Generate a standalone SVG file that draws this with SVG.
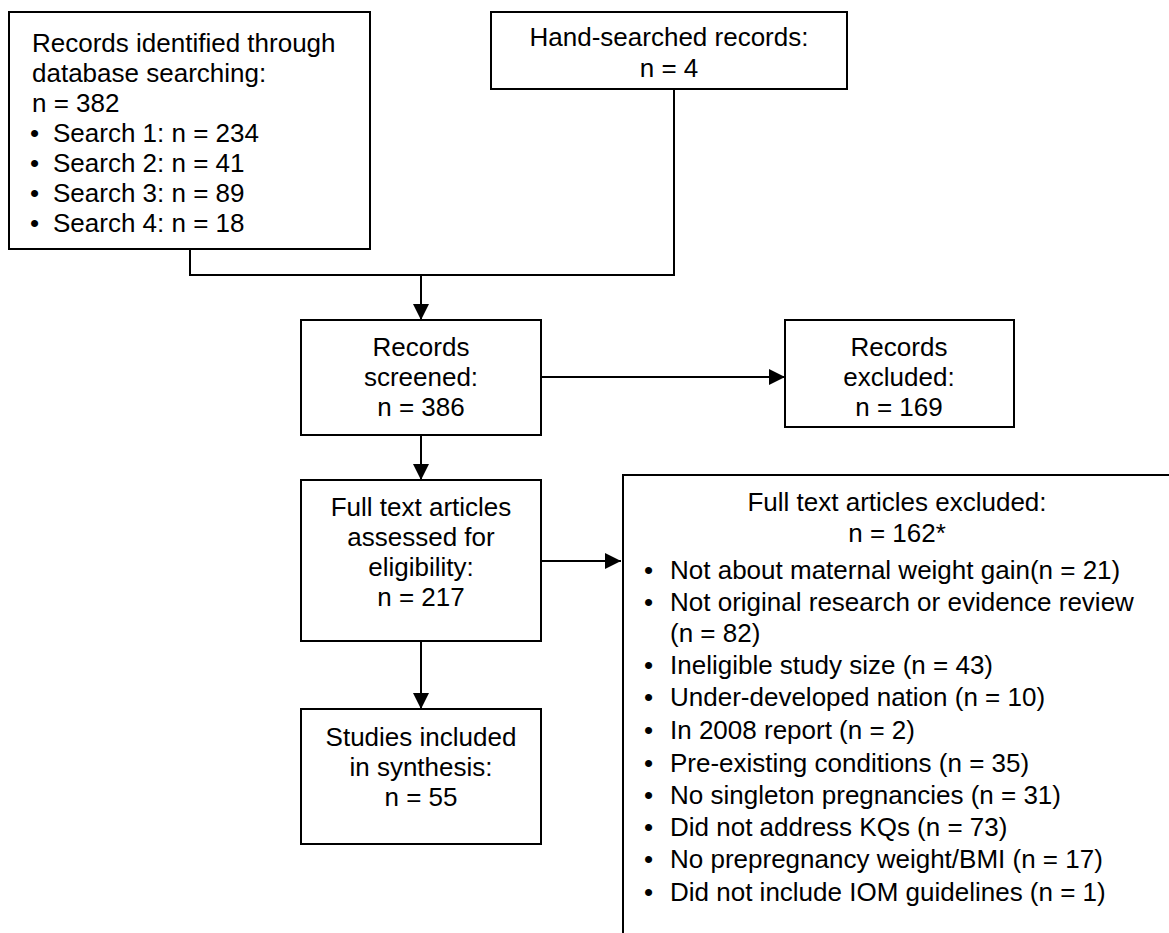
<svg xmlns="http://www.w3.org/2000/svg" width="1169" height="933" viewBox="0 0 1169 933">
<style>
.box{fill:#fff;stroke:#000;stroke-width:2}
.t{font-family:"Liberation Sans",Arial,sans-serif;font-size:26px;fill:#000}
.c{text-anchor:middle}
.ln{fill:none;stroke:#000;stroke-width:2}
</style>
<defs>
<marker id="ah" markerUnits="userSpaceOnUse" markerWidth="16" markerHeight="16" viewBox="0 0 15 15" refX="15" refY="7.5" orient="auto">
<path d="M0,0 L15,7.5 L0,15 Z" fill="#000"/>
</marker>
</defs>
<rect width="1169" height="933" fill="#fff"/>
<g id="connectors">
<polyline class="ln" points="190,249 190,275 674,275 674,89"/>
<line class="ln" x1="421" y1="275" x2="421" y2="320" marker-end="url(#ah)"/>
<line class="ln" x1="541" y1="377" x2="785" y2="377" marker-end="url(#ah)"/>
<line class="ln" x1="421" y1="435" x2="421" y2="480" marker-end="url(#ah)"/>
<line class="ln" x1="541" y1="561" x2="621" y2="561" marker-end="url(#ah)"/>
<line class="ln" x1="421" y1="641" x2="421" y2="709" marker-end="url(#ah)"/>
</g>
<g id="records-identified">
<rect class="box" x="9" y="12" width="361" height="237"/>
<text class="t" x="32" y="52">Records identified through</text>
<text class="t" x="32" y="82">database searching:</text>
<text class="t" x="32" y="112">n = 382</text>
<text class="t" x="30" y="142">•</text><text class="t" x="53" y="142">Search 1: n = 234</text>
<text class="t" x="30" y="172">•</text><text class="t" x="53" y="172">Search 2: n = 41</text>
<text class="t" x="30" y="202">•</text><text class="t" x="53" y="202">Search 3: n = 89</text>
<text class="t" x="30" y="232">•</text><text class="t" x="53" y="232">Search 4: n = 18</text>
</g>
<g id="hand-searched">
<rect class="box" x="491" y="12" width="356" height="77"/>
<text class="t c" x="669" y="46">Hand-searched records:</text>
<text class="t c" x="669" y="77">n = 4</text>
</g>
<g id="records-screened">
<rect class="box" x="301" y="320" width="240" height="115"/>
<text class="t c" x="421" y="356">Records</text>
<text class="t c" x="421" y="386">screened:</text>
<text class="t c" x="421" y="416">n = 386</text>
</g>
<g id="records-excluded">
<rect class="box" x="785" y="320" width="229" height="107"/>
<text class="t c" x="899" y="356">Records</text>
<text class="t c" x="899" y="386">excluded:</text>
<text class="t c" x="899" y="416">n = 169</text>
</g>
<g id="full-text-assessed">
<rect class="box" x="301" y="480" width="240" height="161"/>
<text class="t c" x="421" y="516">Full text articles</text>
<text class="t c" x="421" y="546">assessed for</text>
<text class="t c" x="421" y="576">eligibility:</text>
<text class="t c" x="421" y="606">n = 217</text>
</g>
<g id="full-text-excluded">
<rect class="box" x="623" y="475" width="600" height="500"/>
<text class="t c" x="897" y="511">Full text articles excluded:</text>
<text class="t c" x="897" y="542">n = 162*</text>
<text class="t" x="644" y="579">•</text><text class="t" x="670" y="579">Not about maternal weight gain(n = 21)</text>
<text class="t" x="644" y="611">•</text><text class="t" x="670" y="611">Not original research or evidence review</text>
<text class="t" x="670" y="642">(n = 82)</text>
<text class="t" x="644" y="674">•</text><text class="t" x="670" y="674">Ineligible study size (n = 43)</text>
<text class="t" x="644" y="706">•</text><text class="t" x="670" y="706">Under-developed nation (n = 10)</text>
<text class="t" x="644" y="739">•</text><text class="t" x="670" y="739">In 2008 report (n = 2)</text>
<text class="t" x="644" y="772">•</text><text class="t" x="670" y="772">Pre-existing conditions (n = 35)</text>
<text class="t" x="644" y="804">•</text><text class="t" x="670" y="804">No singleton pregnancies (n = 31)</text>
<text class="t" x="644" y="836">•</text><text class="t" x="670" y="836">Did not address KQs (n = 73)</text>
<text class="t" x="644" y="868">•</text><text class="t" x="670" y="868">No prepregnancy weight/BMI (n = 17)</text>
<text class="t" x="644" y="901">•</text><text class="t" x="670" y="901">Did not include IOM guidelines (n = 1)</text>
</g>
<g id="studies-included">
<rect class="box" x="301" y="709" width="240" height="135"/>
<text class="t c" x="421" y="746">Studies included</text>
<text class="t c" x="421" y="776">in synthesis:</text>
<text class="t c" x="421" y="806">n = 55</text>
</g>
</svg>
